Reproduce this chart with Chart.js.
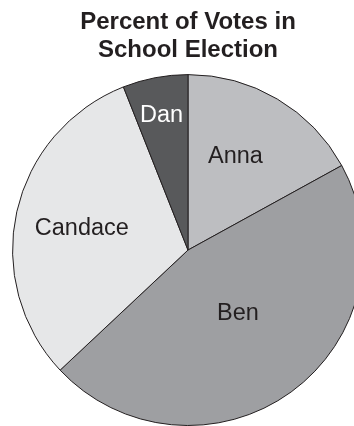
<!DOCTYPE html>
<html>
<head>
<meta charset="utf-8">
<script src="https://cdn.jsdelivr.net/npm/chart.js@4/dist/chart.umd.min.js"></script>
<style>
html,body{margin:0;padding:0;background:#fff;overflow:hidden;width:354px;height:426px;}
#wrap{position:absolute;left:0;top:0;width:376px;height:440px;}
</style>
</head>
<body>
<div id="wrap"><canvas id="c" width="376" height="440"></canvas></div>
<script>
const categories = ["Anna", "Ben", "Candace", "Dan"];
const votePercent = [17, 46, 31, 6];
const sliceColors = ["#bdbec1", "#9e9fa2", "#e6e7e8", "#58595b"];
const labelColors = ["#231f20", "#231f20", "#231f20", "#ffffff"];
const titleLines = ["Percent of Votes in", "School Election"];

const labelPlugin = {
  id: 'sliceLabels',
  afterDatasetsDraw(chart, args, opts) {
    const ctx = chart.ctx;
    const meta = chart.getDatasetMeta(0);
    ctx.save();
    ctx.font = opts.font;
    ctx.textAlign = 'center';
    ctx.textBaseline = 'middle';
    meta.data.forEach((arc, i) => {
      const p = arc.getProps(['x','y','startAngle','endAngle','outerRadius'], true);
      const a = p.startAngle + (p.endAngle - p.startAngle) * opts.angleFrac[i];
      const r = p.outerRadius * opts.radiusFrac[i];
      ctx.fillStyle = labelColors[i];
      ctx.fillText(chart.data.labels[i], p.x + Math.cos(a) * r, p.y + Math.sin(a) * r + 2);
    });
    ctx.restore();
  }
};

new Chart(document.getElementById('c'), {
  type: 'pie',
  data: {
    labels: categories,
    datasets: [{
      data: votePercent,
      backgroundColor: sliceColors,
      borderColor: '#231f20',
      borderWidth: 1
    }]
  },
  options: {
    responsive: false,
    animation: false,
    layout: { padding: { top: 0, left: 12, right: 12, bottom: 14 } },
    plugins: {
      legend: { display: false },
      tooltip: { enabled: false },
      title: {
        display: true,
        text: titleLines,
        color: '#231f20',
        font: { family: '"Liberation Sans", Arial, sans-serif', size: 24, weight: 'bold', lineHeight: 1.2 },
        padding: { top: 7.5, bottom: 9 }
      },
      sliceLabels: {
        font: '23.5px "Liberation Sans", Arial, sans-serif',
        angleFrac: [0.43, 0.48, 0.5, 0.49],
        radiusFrac: [0.61, 0.45, 0.62, 0.79]
      }
    }
  },
  plugins: [labelPlugin]
});
</script>
</body>
</html>
